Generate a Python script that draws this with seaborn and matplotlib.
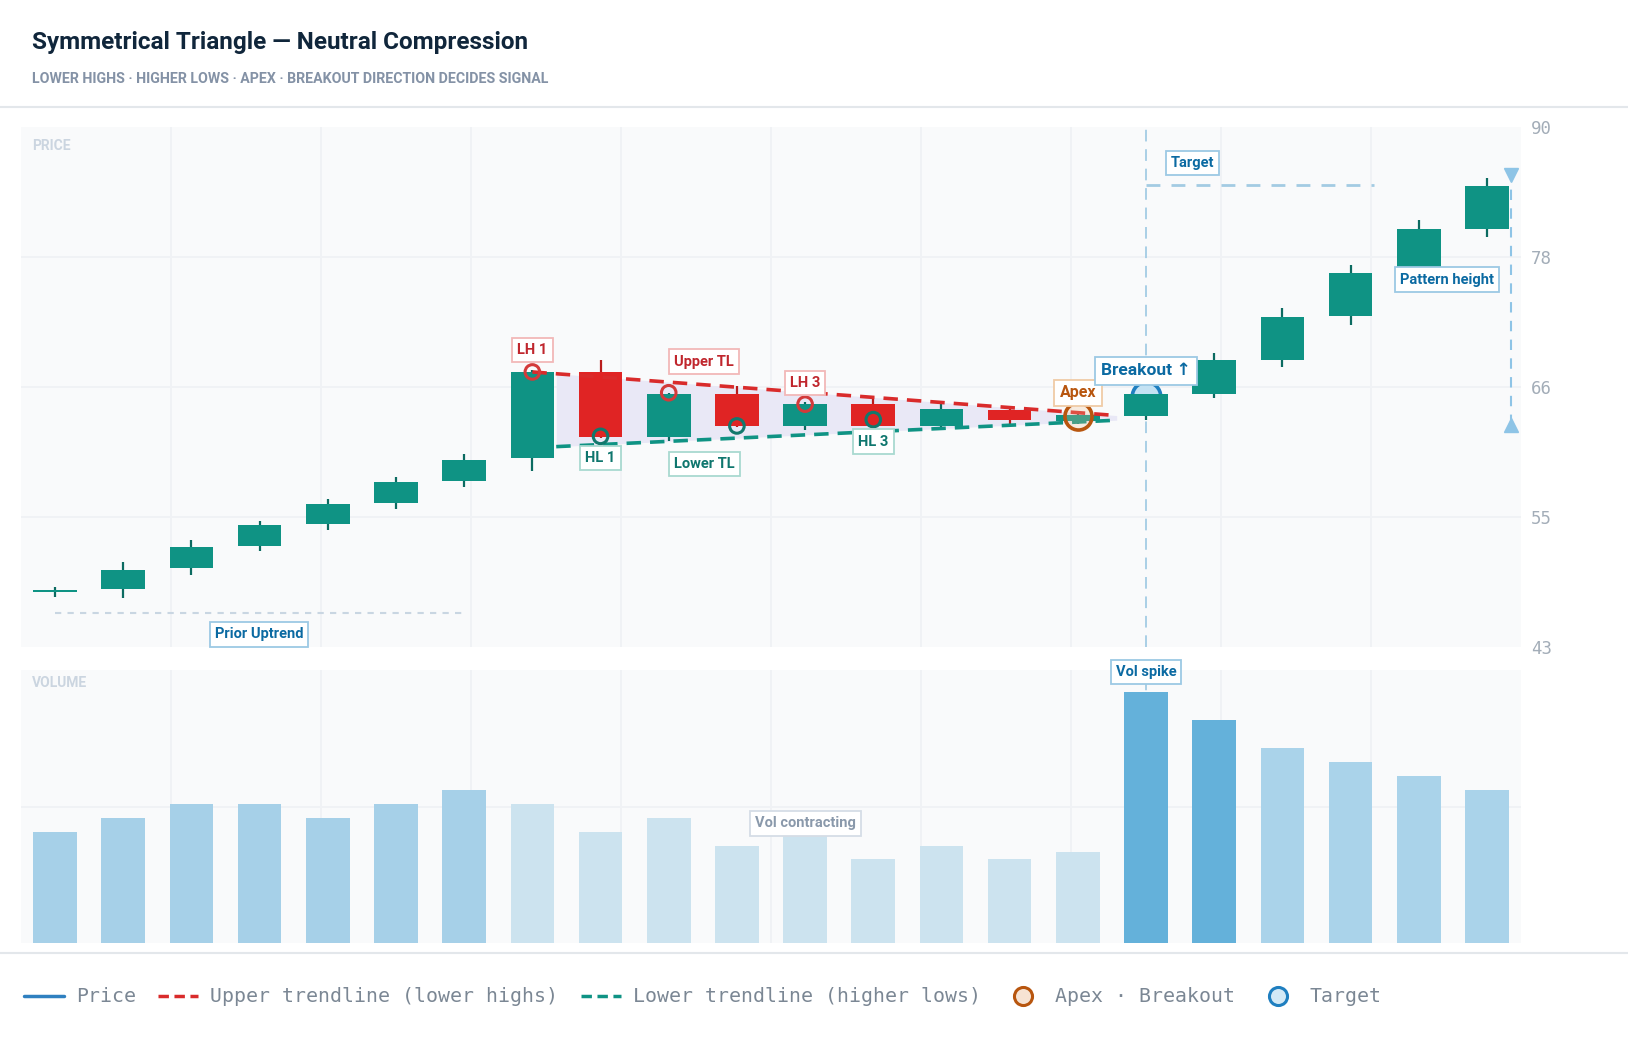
import warnings; warnings.filterwarnings("ignore")
import numpy as np
import pandas as pd
import matplotlib; matplotlib.use("Agg")
import matplotlib.pyplot as plt
from matplotlib import font_manager as fm
from matplotlib.lines import Line2D
import seaborn as sns

# ── data ──────────────────────────────────────────────────────────────────────
OPEN  = [48.0, 48.2, 50.1, 52.1, 54.1, 56.0, 58.0, 60.1, 67.9, 62.0, 65.9,
         63.0, 65.0, 63.0, 64.4, 63.4, 63.9, 65.9, 68.9, 72.9, 76.8, 80.8]
CLOSE = [48.1, 50.0, 52.0, 54.0, 55.9, 57.9, 59.9, 67.9, 62.0, 65.9, 63.0,
         65.0, 63.0, 64.5, 63.5, 64.0, 65.9, 68.9, 72.8, 76.8, 80.8, 84.7]
HIGH  = [48.4, 50.7, 52.7, 54.4, 56.4, 58.4, 60.4, 68.0, 68.9, 66.0, 66.6,
         65.1, 65.6, 65.1, 64.8, 64.2, 66.4, 69.6, 73.6, 77.5, 81.6, 85.4]
LOW   = [47.5, 47.4, 49.5, 51.7, 53.6, 55.5, 57.5, 58.9, 61.9, 61.6, 62.9,
         62.6, 62.9, 62.7, 63.2, 63.2, 63.5, 65.5, 68.3, 72.1, 76.0, 80.1]
VOLUME = [8, 9, 10, 10, 9, 10, 11, 10, 8, 9, 7, 8, 6, 7, 6, 6.5,
          18, 16, 14, 13, 12, 11]
PHASE = ["prior"] * 7 + ["pattern"] * 9 + ["spike"] * 2 + ["post"] * 4

LH_X, LH_Y = [7, 9, 11], [67.86, 65.98, 64.95]
HL_X, HL_Y = [8, 10, 12], [62.04, 62.98, 63.55]
UPPER_X, UPPER_Y = [7, 15.57], [67.86, 63.92]
LOWER_X, LOWER_Y = [7.35, 15.57], [61.11, 63.50]
APEX_X, APEX_Y = 15, 63.92
BREAK_X, BREAK_Y = 16, 65.7
TARGET_X, TARGET_Y = [16, 19.35], 84.75
HEIGHT_X, HEIGHT_Y = 21.36, [63.08, 85.64]
PRIOR_X, PRIOR_Y = [0, 6], 46.1
PRICE_LIM = (43, 90)
VOL_MAX = 19.6

TITLE = "Symmetrical Triangle \u2014 Neutral Compression"
SUBTITLE = "LOWER HIGHS \u00b7 HIGHER LOWS \u00b7 APEX \u00b7 BREAKOUT DIRECTION DECIDES SIGNAL"

# ── colours ──────────────────────────────────────────────────────────────────
TEAL, RED = "#0f9384", "#e02424"
BLUE, ORANGE = "#0b6aa2", "#b8560f"
PANEL_BG, GRID = "#f9fafb", "#f0f2f5"
VOL_COLORS = {"prior": "#a6d0e8", "pattern": "#cce3ef",
              "spike": "#64b1da", "post": "#aad3ea"}

sns.set_theme(style="white")
names = {f.name for f in fm.fontManager.ttflist}
NARROW = [n for n in ["Liberation Sans Narrow", "DejaVu Sans Condensed", "Roboto",
                      "DejaVu Sans"] if n in names] + ["DejaVu Sans"]
MONO = ["DejaVu Sans Mono", "Liberation Mono"]
plt.rcParams["font.family"] = NARROW

W, H = 1628, 1042
fig = plt.figure(figsize=(W / 100, H / 100), dpi=100)
fig.patch.set_facecolor("white")
ax_p = fig.add_axes([21 / W, 1 - 647 / H, 1500 / W, 520 / H])
ax_v = fig.add_axes([21 / W, 1 - 943 / H, 1500 / W, 273 / H])

n = len(OPEN)
idx = np.arange(n)
xgrid = -0.5 + np.arange(1, 10) * n / 10

for ax in (ax_p, ax_v):
    ax.set_facecolor(PANEL_BG)
    for s in ax.spines.values():
        s.set_visible(False)
    for x in xgrid:
        ax.axvline(x, color=GRID, lw=1.3, zorder=0)

# ── volume (seaborn) ─────────────────────────────────────────────────────────
vol = pd.DataFrame({"i": idx, "vol": VOLUME, "phase": PHASE})
sns.barplot(data=vol, x="i", y="vol", hue="phase", palette=VOL_COLORS,
            native_scale=True, width=0.64, dodge=False, legend=False,
            errorbar=None, saturation=1, linewidth=0, ax=ax_v, zorder=2)
ax_v.axhline(VOL_MAX / 2, color=GRID, lw=1.3, zorder=0)
ax_v.set_xlim(-0.5, n - 0.5)
ax_v.set_ylim(0, VOL_MAX)
ax_v.set_xticks([]); ax_v.set_yticks([])
ax_v.set_xlabel(""); ax_v.set_ylabel("")

# ── price candles ────────────────────────────────────────────────────────────
for i in idx:
    o, c, h, l = OPEN[i], CLOSE[i], HIGH[i], LOW[i]
    col = TEAL if c >= o else RED
    ax_p.vlines(i, l, h, color="#0c6b61" if c >= o else "#b91c1c", lw=1.6, zorder=2)
    ax_p.bar(i, max(abs(c - o), 0.15), bottom=min(o, c), width=0.64,
             color=col, linewidth=0, zorder=3)

ticks = np.linspace(*PRICE_LIM, 5)
for t in ticks[1:-1]:
    ax_p.axhline(t, color=GRID, lw=1.3, zorder=0)
ax_p.set_xlim(-0.5, n - 0.5)
ax_p.set_ylim(*PRICE_LIM)
ax_p.set_xticks([])
ax_p.yaxis.tick_right()
ax_p.set_yticks(ticks)
ax_p.set_yticklabels([f"{t:.0f}" for t in ticks], family=MONO)
ax_p.tick_params(axis="y", length=0, pad=7, labelsize=12.5, labelcolor="#a3adb8")

# triangle fill and trendlines
xf = np.linspace(LOWER_X[0], UPPER_X[1], 50)
ax_p.fill_between(xf, np.interp(xf, LOWER_X, LOWER_Y), np.interp(xf, UPPER_X, UPPER_Y),
                  color="#e9e8f6", zorder=1, lw=0)
ax_p.plot(UPPER_X, UPPER_Y, color="#d92b2b", lw=2.6, dashes=(4, 2.5), zorder=4)
ax_p.plot(LOWER_X, LOWER_Y, color=TEAL, lw=2.6, dashes=(4, 2.5), zorder=4)

ax_p.scatter(LH_X, LH_Y, s=110, facecolors="none", edgecolors="#d33a3a", linewidths=2.2, zorder=5)
ax_p.scatter(HL_X, HL_Y, s=110, facecolors="none", edgecolors="#12786d", linewidths=2.2, zorder=5)
ax_p.scatter([APEX_X], [APEX_Y], s=380, facecolors=(0.95, 0.75, 0.55, 0.25),
             edgecolors=ORANGE, linewidths=2.6, zorder=5)
# breakout ring sits behind the candle and its label
ax_p.scatter([BREAK_X], [BREAK_Y], s=420, facecolors="#c4e2f3",
             edgecolors="#1f7fc0", linewidths=2.6, zorder=2.5)

# breakout vertical guide through both panels
for ax in (ax_p, ax_v):
    ax.axvline(BREAK_X, color="#a9cfe6", lw=1.4, dashes=(6, 4), zorder=1)

ax_p.hlines(TARGET_Y, *TARGET_X, color="#a3cbe3", lw=2, linestyles=(0, (5, 4)), zorder=2)
ax_p.vlines(HEIGHT_X, *HEIGHT_Y, color="#8ec4e6", lw=1.5, linestyles=(0, (5, 4)), zorder=2)
ax_p.plot([HEIGHT_X], [HEIGHT_Y[1]], marker="v", ms=10, color="#8ec4e6", ls="none", zorder=3)
ax_p.plot([HEIGHT_X], [HEIGHT_Y[0]], marker="^", ms=10, color="#8ec4e6", ls="none", zorder=3)
ax_p.hlines(PRIOR_Y, *PRIOR_X, color="#c9d6e2", lw=1.5, linestyles=(0, (3, 3)), zorder=2)


def tag(ax, x, y, s, fg, ec, size=10.5):
    ax.text(x, y, s, ha="center", va="center", fontsize=size, weight="bold",
            color=fg, family=NARROW, zorder=7,
            bbox=dict(boxstyle="square,pad=0.35", fc="white", ec=ec, lw=1.3))


tag(ax_p, 7, 69.83, "LH 1", "#c0262d", "#f2b8b8")
tag(ax_p, 8, 60.07, "HL 1", "#0f766e", "#a9d9d0")
tag(ax_p, 9.52, 68.8, "Upper TL", "#c0262d", "#f2b8b8")
tag(ax_p, 9.52, 59.51, "Lower TL", "#0f766e", "#a9d9d0")
tag(ax_p, 11, 66.83, "LH 3", "#c0262d", "#f2b8b8")
tag(ax_p, 12, 61.57, "HL 3", "#0f766e", "#a9d9d0")
tag(ax_p, 15, 65.98, "Apex", ORANGE, "#f0cba6", 11.5)
tag(ax_p, 16, 67.95, "Breakout \u2191", BLUE, "#9cc9e4", 12.5)
tag(ax_p, 16.68, 86.72, "Target", BLUE, "#9cc9e4")
tag(ax_p, 20.41, 76.21, "Pattern height", BLUE, "#9cc9e4")
tag(ax_p, 2.99, 44.13, "Prior Uptrend", BLUE, "#9cc9e4")
tag(ax_v, 16, 19.45, "Vol spike", BLUE, "#9cc9e4")
tag(ax_v, 11, 8.58, "Vol contracting", "#8a99ab", "#d5dde6")

ax_p.text(0.0073, 0.963, "PRICE", transform=ax_p.transAxes, fontsize=10, weight="bold",
          color="#cbd5e0", va="center")
ax_v.text(0.0073, 0.952, "VOLUME", transform=ax_v.transAxes, fontsize=10, weight="bold",
          color="#cbd5e0", va="center")

# ── header / footer ──────────────────────────────────────────────────────────
fig.text(32 / W, 1 - 42 / H, TITLE, fontsize=17.5, weight="bold", color="#10263b", va="center")
fig.text(32 / W, 1 - 79 / H, SUBTITLE, fontsize=10.2, weight="bold", color="#8492a6", va="center")
for yy in (107, 953):
    fig.add_artist(Line2D([0, 1], [1 - yy / H] * 2, transform=fig.transFigure,
                          color="#e3e7eb", lw=1.5))

handles = [
    Line2D([], [], color="#2f80c0", lw=2.5, label="Price"),
    Line2D([], [], color="#d92b2b", lw=2.5, dashes=(3, 1.6), label="Upper trendline (lower highs)"),
    Line2D([], [], color=TEAL, lw=2.5, dashes=(3, 1.6), label="Lower trendline (higher lows)"),
    Line2D([], [], ls="none", marker="o", ms=13, mfc="#f7e3d3", mec=ORANGE, mew=2.2,
           label="Apex \u00b7 Breakout"),
    Line2D([], [], ls="none", marker="o", ms=13, mfc="#d3e9f6", mec="#1f7fc0", mew=2.2,
           label="Target"),
]
leg = fig.legend(handles=handles, loc="center left", bbox_to_anchor=(24 / W, 1 - 997 / H),
                 ncol=5, frameon=False, borderpad=0, borderaxespad=0, handlelength=2.0,
                 handletextpad=0.6, columnspacing=1.15, prop={"family": MONO, "size": 14.3})
for t in leg.get_texts():
    t.set_color("#7b8794")

fig.savefig("out.png", dpi=100, facecolor="white")
